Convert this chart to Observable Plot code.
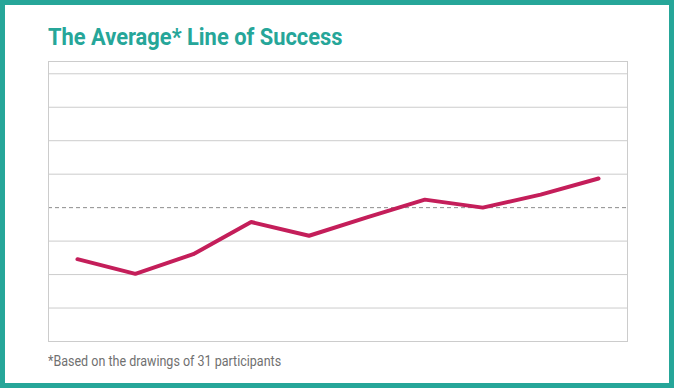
<!DOCTYPE html>
<html>
<head>
<meta charset="utf-8">
<script src="https://cdn.jsdelivr.net/npm/d3@7"></script>
<script src="https://cdn.jsdelivr.net/npm/@observablehq/plot@0.6"></script>
<style>
  html, body { margin: 0; padding: 0; background: #fff; }
  #wrap { position: relative; width: 674px; height: 388px; overflow: hidden; background: #fff; font-family: Roboto, "Noto Sans", sans-serif; }
  #border { position: absolute; left: 0; top: 0; right: 0; bottom: 0; border: 5px solid #26a699; pointer-events: none; }
  #title { position: absolute; left: 48px; top: 26px; margin: 0; font-size: 23px; font-weight: 700; color: #26a699; white-space: nowrap; line-height: 1; transform: scaleX(0.951); transform-origin: left center; }
  #chart { position: absolute; left: 0; top: 0; }
  #caption { position: absolute; left: 48px; top: 354px; font-size: 14px; color: #707070; white-space: nowrap; transform: scaleX(0.894); transform-origin: left center; line-height: 1; }
</style>
</head>
<body>
<div id="wrap">
  <div id="chart"></div>
  <h1 id="title">The Average* Line of Success</h1>
  <div id="caption">*Based on the drawings of 31 participants</div>
  <div id="border"></div>
</div>
<script>
const steps = [1, 2, 3, 4, 5, 6, 7, 8, 9, 10];
const averageValues = [-1.54, -1.98, -1.39, -0.43, -0.84, -0.29, 0.24, 0.0, 0.39, 0.87];
const gridTicks = [-4, -3, -2, -1, 1, 2, 3, 4];
const averageLine = [0];

const data = steps.map((s, i) => ({step: s, value: averageValues[i]}));

const chart = Plot.plot({
  width: 674,
  height: 388,
  marginLeft: 48,
  marginRight: 47,
  marginTop: 61,
  marginBottom: 47,
  x: {domain: [0.5, 10.5], axis: null},
  y: {domain: [-4, 4.367], axis: null},
  style: {background: "transparent"},
  marks: [
    Plot.ruleY(gridTicks, {stroke: "#cccccc", strokeWidth: 1, strokeOpacity: 1}),
    Plot.ruleY(averageLine, {stroke: "#8c8c8c", strokeWidth: 1, strokeDasharray: "4,3", strokeOpacity: 1}),
    Plot.frame({stroke: "#cccccc", strokeOpacity: 1}),
    Plot.line(data, {x: "step", y: "value", stroke: "#c41e5a", strokeWidth: 4, strokeLinecap: "round", strokeLinejoin: "miter"})
  ]
});
document.getElementById("chart").appendChild(chart);
</script>
</body>
</html>
